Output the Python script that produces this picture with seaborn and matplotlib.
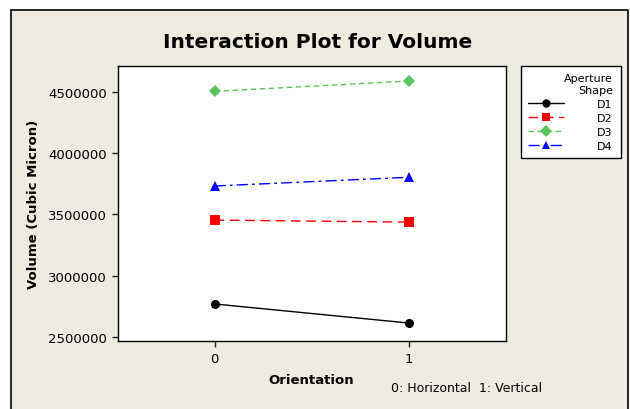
import numpy as np
import pandas as pd
import matplotlib
matplotlib.use("Agg")
import matplotlib.pyplot as plt
from matplotlib.patches import Rectangle
from matplotlib.lines import Line2D
import seaborn as sns

# valores
orientation = [0, 1]
shapes = ["D1", "D2", "D3", "D4"]
vol_d1 = [2771000, 2616000]
vol_d2 = [3454000, 3438000]
vol_d3 = [4503000, 4587000]
vol_d4 = [3732000, 3803000]
y_ticks = [2500000, 3000000, 3500000, 4000000, 4500000]

df = pd.DataFrame({
    "Orientation": orientation * 4,
    "Shape": np.repeat(shapes, 2),
    "Volume": vol_d1 + vol_d2 + vol_d3 + vol_d4,
})

sns.set_style("white")
plt.rcParams["font.family"] = ["DejaVu Sans"]
plt.rcParams["text.color"] = "black"
plt.rcParams["axes.labelcolor"] = "black"
plt.rcParams["xtick.color"] = "black"
plt.rcParams["ytick.color"] = "black"

beige = "#EFEBE1"
colors = {"D1": "black", "D2": "#FF0000", "D3": "#5CC45C", "D4": "#0000FF"}
markers = {"D1": "o", "D2": "s", "D3": "D", "D4": "^"}
dashes = {"D1": "", "D2": (7, 4), "D3": (4, 2.5), "D4": (8, 3, 2, 3)}

fig = plt.figure(figsize=(6.3, 4.1), dpi=100)
fig.patch.set_facecolor("white")
fig.patches.append(Rectangle((11 / 630, -0.01), 617 / 630, (410 - 11) / 410 + 0.01,
                             transform=fig.transFigure, facecolor=beige,
                             edgecolor="black", lw=1.2, zorder=-10))

ax = fig.add_axes([117.5 / 630, (410 - 342.3) / 410, 388.2 / 630, 275 / 410])
ax.set_facecolor("white")

sns.lineplot(data=df, x="Orientation", y="Volume", hue="Shape", style="Shape",
             palette=colors, markers=markers, dashes=dashes, markersize=6.5,
             markeredgewidth=0, linewidth=1, legend=False, ax=ax)

ax.set_xlim(-0.5, 1.5)
ax.set_ylim(2467000, 4707000)
ax.set_xticks(orientation)
ax.set_yticks(y_ticks)
ax.set_yticklabels([str(v) for v in y_ticks])
ax.tick_params(axis="both", direction="out", length=4, width=1, labelsize=9.5,
               left=True, bottom=True, color="#222222")
for s in ax.spines.values():
    s.set_color("black")
    s.set_linewidth(1)

ax.set_xlabel("Orientation", fontsize=9.5, fontweight="bold", labelpad=6)
ax.set_ylabel("Volume (Cubic Micron)", fontsize=9.5, fontweight="bold", labelpad=6)

fig.text(318 / 630, 1 - 43 / 410, "Interaction Plot for Volume", ha="center",
         va="center", fontsize=14.5, fontweight="bold")
fig.text(391 / 630, 1 - 389 / 410, "0: Horizontal  1: Vertical", ha="left",
         va="center", fontsize=9)

handles = [Line2D([0], [0], color=colors[s], marker=markers[s], markersize=6,
                  markeredgewidth=0, lw=1,
                  linestyle="-" if dashes[s] == "" else (0, dashes[s]))
           for s in shapes]
leg = fig.legend(handles, shapes, title="Aperture\nShape", loc="upper left",
                 bbox_to_anchor=(520.7 / 630, 1 - 66.7 / 410), borderaxespad=0,
                 fontsize=8, title_fontsize=8, frameon=True, fancybox=False,
                 framealpha=1, handlelength=3.2, borderpad=0.7, labelspacing=0.35,
                 handletextpad=3.0, alignment="right")
leg.get_frame().set_edgecolor("black")
leg.get_frame().set_linewidth(1)
leg.get_frame().set_facecolor("white")
leg.get_title().set_multialignment("right")

fig.savefig("out.png", dpi=100, facecolor=fig.get_facecolor())
